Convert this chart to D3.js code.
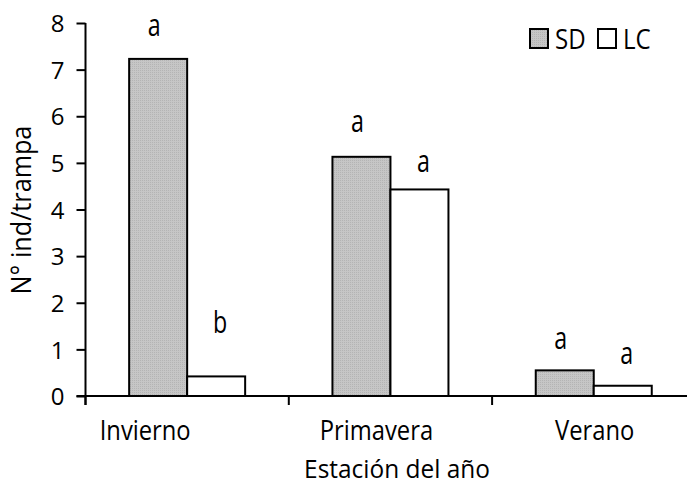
<!DOCTYPE html>
<html><head><meta charset="utf-8">
<script src="https://cdn.jsdelivr.net/npm/d3@7"></script>
<style>body{margin:0;background:#fff}svg{display:block}text{font-family:"Open Sans",sans-serif;fill:#000}</style>
</head><body>
<svg id="c" width="687" height="485"></svg>
<script>
const categories = ["Invierno", "Primavera", "Verano"];
const series = ["SD", "LC"];
const sdValues = [7.23, 5.13, 0.55];
const lcValues = [0.42, 4.43, 0.22];
const sdLetters = ["a", "a", "a"];
const lcLetters = ["b", "a", "a"];
// level (in y units) where each significance letter sits
const sdLetterLevel = [7.73, 5.67, 1.0];
const lcLetterLevel = [1.36, 4.81, 0.68];
const yTicks = [0, 1, 2, 3, 4, 5, 6, 7, 8];

const svg = d3.select("#c");
const x0 = 85.5, bandW = 203.3;
const x = d3.scaleBand().domain(categories).range([x0, x0 + bandW * 3]).paddingInner(0).paddingOuter(0);
const y = d3.scaleLinear().domain([0, 8]).range([396, 23]);
const barW = 58;

// condensed text helper (keeps real text)
function ctext(parent, px, py, str, size, anchor, sx, rot) {
  const g = parent.append("g").attr("transform", `translate(${px},${py}) rotate(${rot || 0}) scale(${sx},1)`);
  return g.append("text").attr("text-anchor", anchor).attr("font-size", size).text(str);
}

// texture pattern for gray
const defs = svg.append("defs");
const pat = defs.append("pattern").attr("id", "g").attr("width", 2).attr("height", 2).attr("patternUnits", "userSpaceOnUse");
pat.append("rect").attr("width", 2).attr("height", 2).attr("fill", "#c6c6c6");
pat.append("rect").attr("width", 1).attr("height", 1).attr("fill", "#b4b4b4");

const data = [];
categories.forEach((c, i) => {
  data.push({c, s: "SD", v: sdValues[i], l: sdLetters[i], lv: sdLetterLevel[i]});
  data.push({c, s: "LC", v: lcValues[i], l: lcLetters[i], lv: lcLetterLevel[i]});
});
const bx = d => x(d.c) + x.bandwidth() / 2 + (d.s === "SD" ? -barW : 0);

svg.selectAll("rect.bar").data(data).enter().append("rect").attr("class", "bar")
  .attr("x", bx).attr("width", barW)
  .attr("y", d => y(d.v)).attr("height", d => y(0) - y(d.v))
  .attr("fill", d => d.s === "SD" ? "url(#g)" : "#fff")
  .attr("stroke", "#000").attr("stroke-width", 2);

// letters
data.forEach(d => {
  ctext(svg, bx(d) + barW / 2 + (d.s === "SD" ? -4 : 4), y(d.lv), d.l, 31, "middle", 0.75);
});

// y axis
const yAxis = svg.append("g").attr("transform", `translate(${x0},0)`)
  .call(d3.axisLeft(y).tickValues(yTicks).tickFormat(d3.format("d")).tickSize(9).tickPadding(12));
yAxis.select(".domain").attr("stroke", "#000").attr("stroke-width", 2).attr("d", `M0,${y(8)}V${y(0)+9}`);
yAxis.selectAll(".tick line").attr("stroke-width", 2);
yAxis.selectAll(".tick text").attr("font-size", 24).attr("dy", "0.36em").attr("font-family", "Open Sans");

// x axis
const xAxis = svg.append("g").attr("transform", `translate(0,${y(0)})`);
xAxis.append("line").attr("x1", x0 - 9).attr("x2", 687).attr("y1", 0).attr("y2", 0).attr("stroke", "#000").attr("stroke-width", 2);
xAxis.selectAll("line.tk").data(categories).enter().append("line").attr("class", "tk")
  .attr("x1", d => x(d)).attr("x2", d => x(d)).attr("y1", 0).attr("y2", 9).attr("stroke", "#000").attr("stroke-width", 2);
const labelNudge = [-42, -14, 1];
categories.forEach((c, i) => {
  ctext(svg, x(c) + x.bandwidth() / 2 + labelNudge[i], 440, c, 27, "middle", 0.88);
});

ctext(svg, 397, 478, "Estación del año", 26, "middle", 0.94);
ctext(svg, 31, 210, "N° ind/trampa", 28, "middle", 0.9, -90);

// legend
const legX = [530, 598];
series.forEach((s, i) => {
  svg.append("rect").attr("x", legX[i]).attr("y", 29).attr("width", 18).attr("height", 19)
    .attr("fill", s === "SD" ? "url(#g)" : "#fff").attr("stroke", "#000").attr("stroke-width", 2);
  ctext(svg, legX[i] + 25, 49, s, 28, "start", 0.86);
});
</script>
</body></html>
